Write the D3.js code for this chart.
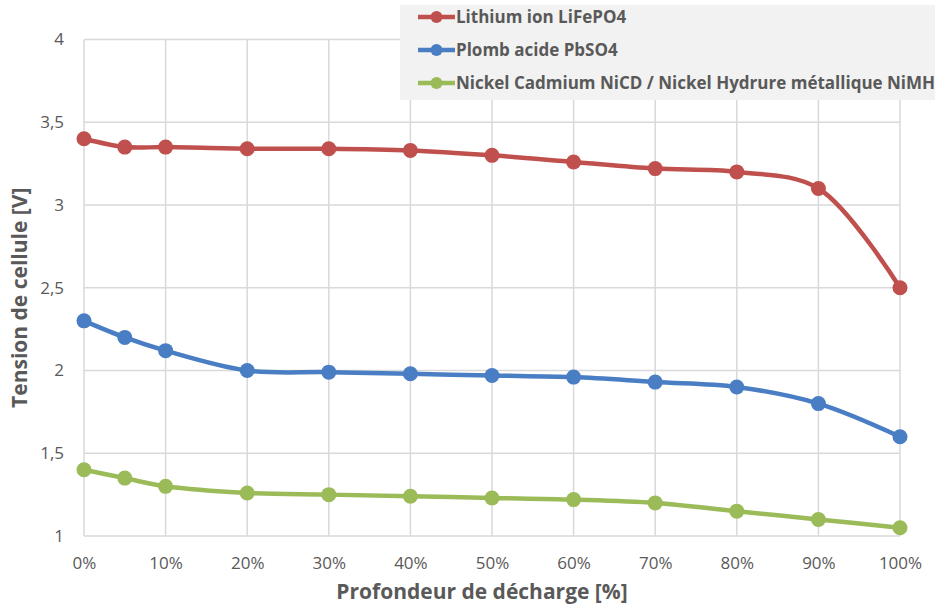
<!DOCTYPE html>
<html>
<head>
<meta charset="utf-8">
<script src="https://cdn.jsdelivr.net/npm/d3@7"></script>
<style>
  body { margin: 0; background: #fff; }
  text { font-family: "Open Sans", sans-serif; }
</style>
</head>
<body>
<div id="chart"></div>
<script>
// data
var depth = [0, 5, 10, 20, 30, 40, 50, 60, 70, 80, 90, 100];
var lithium = [3.40, 3.35, 3.35, 3.34, 3.34, 3.33, 3.30, 3.26, 3.22, 3.20, 3.10, 2.50];
var plomb = [2.30, 2.20, 2.12, 2.00, 1.99, 1.98, 1.97, 1.96, 1.93, 1.90, 1.80, 1.60];
var nickel = [1.40, 1.35, 1.30, 1.26, 1.25, 1.24, 1.23, 1.22, 1.20, 1.15, 1.10, 1.05];
var seriesNames = ["Lithium ion LiFePO4", "Plomb acide PbSO4", "Nickel Cadmium NiCD / Nickel Hydrure métallique NiMH"];
var xTicks = [0, 10, 20, 30, 40, 50, 60, 70, 80, 90, 100];
var yTicks = [1, 1.5, 2, 2.5, 3, 3.5, 4];

var colors = ["#C0504D", "#4A7EC4", "#9BBB59"];
var allSeries = [lithium, plomb, nickel];

var svgWidth = 935, svgHeight = 608;
var margin = {top: 39.5, right: 35, bottom: 72, left: 84};
var width = svgWidth - margin.left - margin.right;
var height = svgHeight - margin.top - margin.bottom;

var svg = d3.select("#chart").append("svg")
  .attr("width", svgWidth)
  .attr("height", svgHeight);

var g = svg.append("g")
  .attr("transform", `translate(${margin.left}, ${margin.top})`);

var x = d3.scaleLinear().domain([0, 100]).range([0, width]);
var y = d3.scaleLinear().domain([1, 4]).range([height, 0]);

// grid
g.append("g").selectAll("line").data(yTicks).enter().append("line")
  .attr("x1", 0).attr("x2", width)
  .attr("y1", d => y(d)).attr("y2", d => y(d))
  .attr("stroke", "#d9d9d9").attr("stroke-width", 1.5);
g.append("g").selectAll("line").data(xTicks).enter().append("line")
  .attr("y1", 0).attr("y2", height)
  .attr("x1", d => x(d)).attr("x2", d => x(d))
  .attr("stroke", "#d9d9d9").attr("stroke-width", 1.5);

// axes (labels only)
var fmt = d3.format(".1~f");
var yAxis = g.append("g")
  .call(d3.axisLeft(y).tickValues(yTicks).tickSize(0).tickPadding(20)
    .tickFormat(d => fmt(d).replace(".", ",")));
var xAxis = g.append("g")
  .attr("transform", `translate(0, ${height})`)
  .call(d3.axisBottom(x).tickValues(xTicks).tickSize(0).tickPadding(21)
    .tickFormat(d => d + "%"));
[yAxis, xAxis].forEach(function(a) {
  a.select(".domain").remove();
  a.selectAll("text").attr("font-size", "17px").attr("fill", "#595959")
    .style("font-family", "'Open Sans', sans-serif");
});

// lines and points
var line = d3.line()
  .x((d, i) => x(depth[i]))
  .y(d => y(d))
  .curve(d3.curveCatmullRom.alpha(0.5));

allSeries.forEach(function(vals, k) {
  g.append("path")
    .datum(vals)
    .attr("d", line)
    .attr("fill", "none")
    .attr("stroke", colors[k])
    .attr("stroke-width", 4.5);
  g.append("g").selectAll("circle").data(vals).enter().append("circle")
    .attr("cx", (d, i) => x(depth[i]))
    .attr("cy", d => y(d))
    .attr("r", 7.5)
    .attr("fill", colors[k]);
});

// axis titles
svg.append("text")
  .attr("transform", `translate(27, ${margin.top + height / 2 + 10}) rotate(-90)`)
  .attr("text-anchor", "middle")
  .attr("font-size", "21px").attr("font-weight", "bold").attr("fill", "#595959")
  .text("Tension de cellule [V]");
svg.append("text")
  .attr("x", margin.left + width / 2 - 10)
  .attr("y", 599)
  .attr("text-anchor", "middle")
  .attr("font-size", "21px").attr("font-weight", "bold").attr("fill", "#595959")
  .text("Profondeur de décharge [%]");

// legend
var legend = svg.append("g");
legend.append("rect")
  .attr("x", 400).attr("y", 5).attr("width", 535).attr("height", 95)
  .attr("fill", "#f2f2f2");
var rowY = [17, 50, 83];
seriesNames.forEach(function(name, k) {
  legend.append("line")
    .attr("x1", 418).attr("x2", 455)
    .attr("y1", rowY[k]).attr("y2", rowY[k])
    .attr("stroke", colors[k]).attr("stroke-width", 4.5);
  legend.append("circle")
    .attr("cx", 436.5).attr("cy", rowY[k]).attr("r", 6)
    .attr("fill", colors[k]);
  legend.append("text")
    .attr("x", 456).attr("y", rowY[k]).attr("dy", "0.35em")
    .attr("font-size", "17px").attr("font-weight", "bold").attr("fill", "#595959")
    .text(name);
});
</script>
</body>
</html>
